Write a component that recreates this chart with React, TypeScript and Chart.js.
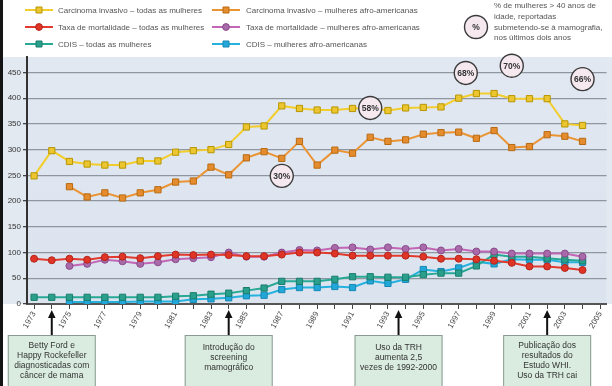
import React, { useEffect, useRef } from 'react';
import { Chart, registerables } from 'chart.js';

Chart.register(...registerables);

const years = [1973, 1974, 1975, 1976, 1977, 1978, 1979, 1980, 1981, 1982, 1983, 1984, 1985, 1986, 1987, 1988,
  1989, 1990, 1991, 1992, 1993, 1994, 1995, 1996, 1997, 1998, 1999, 2000, 2001, 2002, 2003, 2004];
const tickYears = [1973, 1974, 1975, 1976, 1977, 1978, 1979, 1980, 1981, 1982, 1983, 1984, 1985, 1986, 1987, 1988,
  1989, 1990, 1991, 1992, 1993, 1994, 1995, 1996, 1997, 1998, 1999, 2000, 2001, 2002, 2003, 2004, 2005];
const yTicks = [0, 50, 100, 150, 200, 250, 300, 350, 400, 450];

const invasiveAll = [249, 298, 277, 272, 270, 270, 278, 278, 295, 298, 300, 310, 344, 346, 385, 380,
  377, 377, 380, 381, 376, 381, 382, 383, 400, 409, 409, 399, 399, 399, 350, 347];
const invasiveAfro = [null, null, 228, 208, 216, 206, 216, 222, 237, 239, 266, 251, 284, 296, 283, 316,
  270, 299, 293, 324, 316, 319, 330, 333, 334, 322, 337, 304, 306, 329, 326, 316];
const mortalityAll = [88, 85, 88, 86, 91, 92, 89, 93, 96, 95, 96, 95, 93, 93, 96, 100,
  100, 98, 94, 94, 94, 94, 92, 88, 88, 87, 84, 80, 73, 73, 70, 66];
const mortalityAfro = [null, null, 74, 78, 86, 83, 78, 81, 87, 89, 91, 100, 92, 92, 100, 105,
  104, 109, 110, 106, 110, 107, 110, 104, 107, 102, 102, 98, 98, 98, 98, 92];
const cdisAll = [13, 13, 13, 13, 13, 13, 13, 13, 15, 16, 19, 21, 26, 31, 44, 44,
  44, 48, 53, 53, 52, 52, 57, 60, 60, 74, 96, 92, 92, 89, 86, 84];
const cdisAfro = [null, null, 4, 4, 4, 4, 5, 5, 5, 9, 10, 12, 16, 17, 28, 32,
  32, 34, 32, 45, 40, 48, 67, 63, 70, 82, 78, 87, 86, 86, 81, 81];

const seriesNames = [
  'Carcinoma invasivo – todas as mulheres',
  'Carcinoma invasivo – mulheres afro-americanas',
  'Taxa de mortalidade – todas as mulheres',
  'Taxa de mortalidade – mulheres afro-americanas',
  'CDIS – todas as mulheres',
  'CDIS – mulheres afro-americanas',
];
const seriesValues = [invasiveAll, invasiveAfro, mortalityAll, mortalityAfro, cdisAll, cdisAfro];
const lineColors = ['#f3cd2c', '#eb9434', '#e23b2e', '#c266b6', '#27a996', '#25b2df'];
const pointFills = ['#ecc630', '#e58d2e', '#de3526', '#a86aa8', '#2aa08c', '#22a8d8'];
const pointBorders = ['#b89600', '#b86a12', '#b5241a', '#8a4a8c', '#1a7d6d', '#1687b5'];
const pointShapes = ['rect', 'rect', 'circle', 'circle', 'rect', 'rect'];

const pctYears = [1987, 1992, 1997.4, 2000, 2004];
const pctValues = [249, 381, 449, 463, 437];
const pctLabels = ['30%', '58%', '68%', '70%', '66%'];

const eventYears = [1974, 1984, 1993.6, 2002];
const eventTexts = [
  ['Betty Ford e', 'Happy Rockefeller', 'diagnosticadas com', 'câncer de mama'],
  ['Introdução do', 'screening', 'mamográfico'],
  ['Uso da TRH', 'aumenta 2,5', 'vezes de 1992-2000'],
  ['Publicação dos', 'resultados do', 'Estudo WHI.', 'Uso da TRH cai'],
];
const noteLines = ['% de mulheres > 40 anos de', 'idade, reportadas', 'submetendo-se à mamografia,', 'nos últimos dois anos'];

const FONT = '"Liberation Sans", Arial, sans-serif';

function drawMarker(ctx: CanvasRenderingContext2D, shape: string, x: number, y: number, fill: string, border: string) {
  ctx.save();
  ctx.fillStyle = fill;
  ctx.strokeStyle = border;
  ctx.lineWidth = 1;
  ctx.beginPath();
  if (shape === 'rect') {
    ctx.rect(x - 3, y - 3, 6, 6);
  } else {
    ctx.arc(x, y, 3.4, 0, Math.PI * 2);
  }
  ctx.fill();
  ctx.stroke();
  ctx.restore();
}

const decorPlugin = {
  id: 'decor',
  beforeDraw(chart: any) {
    const ctx = chart.ctx as CanvasRenderingContext2D;
    const area = chart.chartArea;
    ctx.save();
    ctx.fillStyle = '#ffffff';
    ctx.fillRect(0, 0, chart.width, chart.height);
    ctx.fillStyle = '#e3e9f1';
    ctx.fillRect(3, area.top, chart.width - 3, area.bottom - area.top);
    const g = ctx.createLinearGradient(0, area.top, 0, area.bottom);
    g.addColorStop(0, '#e1e8f2');
    g.addColorStop(1, '#dbe3ee');
    ctx.fillStyle = g;
    ctx.fillRect(area.left, area.top, area.right - area.left, area.bottom - area.top);
    ctx.fillStyle = '#141414';
    ctx.fillRect(0, 0, 3, chart.height);
    ctx.restore();
  },
  afterDraw(chart: any) {
    const ctx = chart.ctx as CanvasRenderingContext2D;
    const xs = chart.scales.x;
    const ys = chart.scales.y;
    ctx.save();

    // legend
    const cols = [[25, 53, 58], [212, 240, 246]];
    const rows = [10, 27, 44];
    ctx.font = `8px ${FONT}`;
    ctx.textBaseline = 'middle';
    ctx.textAlign = 'left';
    for (let i = 0; i < seriesNames.length; i++) {
      const c = cols[i % 2];
      const r = rows[Math.floor(i / 2)];
      ctx.strokeStyle = lineColors[i];
      ctx.lineWidth = 2;
      ctx.beginPath();
      ctx.moveTo(c[0], r);
      ctx.lineTo(c[1], r);
      ctx.stroke();
      drawMarker(ctx, pointShapes[i], (c[0] + c[1]) / 2, r, pointFills[i], pointBorders[i]);
      ctx.fillStyle = '#555';
      ctx.fillText(seriesNames[i], c[2], r + 0.5);
    }

    // % note
    ctx.beginPath();
    ctx.arc(476, 27, 11.5, 0, Math.PI * 2);
    ctx.fillStyle = '#f5e8ef';
    ctx.fill();
    ctx.strokeStyle = '#3a3a3a';
    ctx.lineWidth = 1.4;
    ctx.stroke();
    ctx.fillStyle = '#333';
    ctx.font = `bold 8.5px ${FONT}`;
    ctx.textAlign = 'center';
    ctx.fillText('%', 476, 27.5);
    ctx.font = `8px ${FONT}`;
    ctx.textAlign = 'left';
    ctx.fillStyle = '#555';
    noteLines.forEach((t, i) => ctx.fillText(t, 494, 6 + i * 10.7));

    // percentage circles
    for (let i = 0; i < pctLabels.length; i++) {
      const cx = xs.getPixelForValue(pctYears[i]);
      const cy = ys.getPixelForValue(pctValues[i]);
      ctx.beginPath();
      ctx.arc(cx, cy, 11.5, 0, Math.PI * 2);
      ctx.fillStyle = '#f5e8ef';
      ctx.fill();
      ctx.strokeStyle = '#3a3a3a';
      ctx.lineWidth = 1.4;
      ctx.stroke();
      ctx.fillStyle = '#333';
      ctx.font = `bold 8.5px ${FONT}`;
      ctx.textAlign = 'center';
      ctx.fillText(pctLabels[i], cx, cy + 0.5);
    }

    // event arrows and boxes
    for (let i = 0; i < eventYears.length; i++) {
      const ax = xs.getPixelForValue(eventYears[i]);
      ctx.strokeStyle = '#111';
      ctx.lineWidth = 2;
      ctx.beginPath();
      ctx.moveTo(ax, 335);
      ctx.lineTo(ax, 316);
      ctx.stroke();
      ctx.fillStyle = '#111';
      ctx.beginPath();
      ctx.moveTo(ax, 310);
      ctx.lineTo(ax - 3.8, 318);
      ctx.lineTo(ax + 3.8, 318);
      ctx.closePath();
      ctx.fill();

      const bw = 88;
      ctx.fillStyle = '#d9ecdf';
      ctx.fillRect(ax - bw / 2, 335, bw, 52);
      ctx.strokeStyle = '#8a9a90';
      ctx.lineWidth = 1;
      ctx.strokeRect(ax - bw / 2 + 0.5, 335.5, bw - 1, 52);
      const lines = eventTexts[i];
      const start = lines.length === 4 ? 345.5 : 347.5;
      ctx.fillStyle = '#333';
      ctx.font = `8.5px ${FONT}`;
      ctx.textAlign = 'center';
      lines.forEach((t, j) => ctx.fillText(t, ax, start + j * 10));
    }
    ctx.restore();
  },
};

export default function App() {
  const ref = useRef<HTMLCanvasElement | null>(null);
  useEffect(() => {
    document.body.style.margin = '0';
    const canvas = ref.current;
    if (!canvas) return;
    const datasets = seriesNames.map((name, i) => ({
      label: name,
      data: years.map((yr, k) => ({ x: yr, y: seriesValues[i][k] })),
      borderColor: lineColors[i],
      backgroundColor: pointFills[i],
      pointBackgroundColor: pointFills[i],
      pointBorderColor: pointBorders[i],
      pointBorderWidth: 1,
      pointStyle: pointShapes[i],
      pointRadius: pointShapes[i] === 'rect' ? 4.4 : 3.5,
      borderWidth: 2,
      tension: 0,
      spanGaps: false,
    }));
    const tickFont = { family: FONT, size: 8 };
    const chart = new Chart(canvas, {
      type: 'line',
      data: { datasets: datasets as any },
      plugins: [decorPlugin],
      options: {
        responsive: false,
        animation: false,
        layout: { padding: { top: 57, left: 3, right: 4, bottom: 0 } },
        plugins: { legend: { display: false }, tooltip: { enabled: false }, title: { display: false } },
        scales: {
          x: {
            type: 'linear',
            min: 1972.6,
            max: 2005.36,
            afterBuildTicks: (s: any) => { s.ticks = tickYears.map((v) => ({ value: v })); },
            afterFit: (s: any) => { s.height = 82; },
            grid: { drawOnChartArea: false, drawTicks: true, tickLength: 5, tickColor: '#444', lineWidth: 1 },
            border: { color: '#555', width: 2 },
            ticks: {
              autoSkip: false,
              minRotation: 60,
              maxRotation: 60,
              padding: 1,
              color: '#444',
              font: tickFont,
              callback: (v: any) => (Number(v) % 2 === 1 ? String(v) : ''),
            },
          },
          y: {
            min: 0,
            max: 480,
            afterBuildTicks: (s: any) => { s.ticks = yTicks.map((v) => ({ value: v })); },
            afterFit: (s: any) => { s.width = 24; },
            grid: { color: '#8f969f', lineWidth: 1.3, tickLength: 4, tickColor: '#444' },
            border: { color: '#333', width: 2 },
            ticks: { padding: 2, color: '#333', font: tickFont },
          },
        },
      },
    });
    return () => chart.destroy();
  }, []);
  return (
    <div style={{ position: 'absolute', left: 0, top: 0, width: 612, height: 386 }}>
      <canvas ref={ref} width={612} height={386} style={{ display: 'block', width: 612, height: 386 }} />
    </div>
  );
}
